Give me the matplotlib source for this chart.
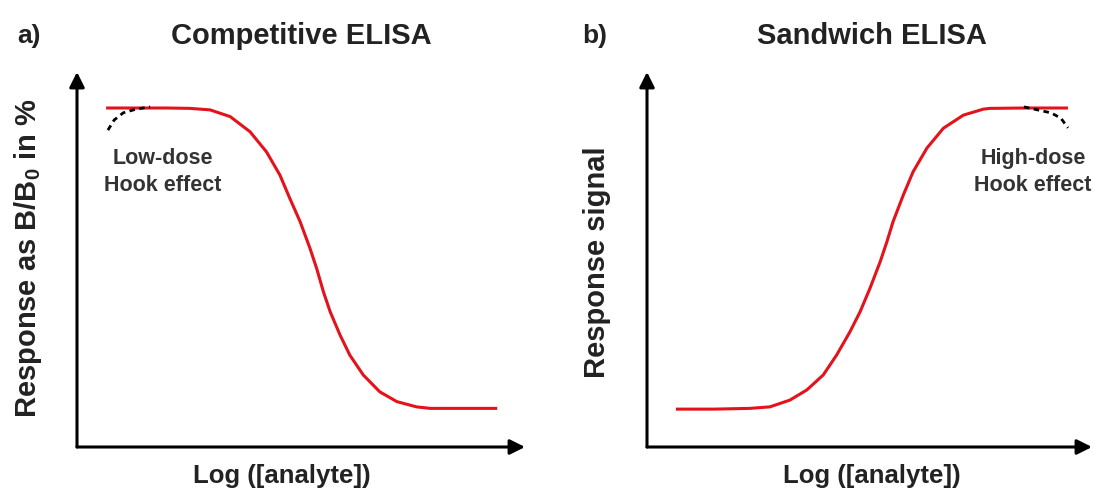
import matplotlib.pyplot as plt

plt.rcParams['font.family'] = ['Liberation Sans', 'DejaVu Sans']

W, H = 1094, 492

# competitive ELISA curve (x: log conc 0-10, y: % response 0-100)
comp_x = [0.65, 1.5, 2.0, 2.52, 2.97, 3.42, 3.86, 4.23, 4.53, 4.75, 4.98, 5.20,
          5.35, 5.50, 5.65, 5.87, 6.09, 6.39, 6.76, 7.14, 7.58, 7.88, 9.38]
comp_y = [90.4, 90.4, 90.4, 90.3, 89.9, 88.1, 84.1, 78.7, 72.5, 66.3, 60.1, 53.0,
          47.6, 41.4, 36.1, 29.9, 24.5, 19.2, 14.7, 12.1, 10.7, 10.3, 10.3]
low_hook_x = [0.69, 0.83, 1.03, 1.32, 1.63]
low_hook_y = [84.5, 87.2, 89.1, 90.1, 90.7]

# sandwich ELISA curve
sand_x = [0.65, 1.5, 2.31, 2.76, 3.21, 3.59, 3.96, 4.26, 4.56, 4.79, 5.01, 5.24,
          5.39, 5.53, 5.76, 5.98, 6.29, 6.66, 7.11, 7.56, 7.71, 8.5, 9.46]
sand_y = [10.1, 10.1, 10.3, 10.7, 12.5, 15.2, 19.2, 24.5, 30.7, 36.1, 42.3, 49.4,
          54.7, 60.1, 67.2, 73.4, 79.7, 85.0, 88.5, 90.1, 90.3, 90.4, 90.4]
high_hook_x = [8.47, 9.08, 9.30, 9.46]
high_hook_y = [90.7, 89.1, 87.7, 85.1]

red = '#e3121b'
ink = '#222222'

fig = plt.figure(figsize=(W / 100, H / 100), dpi=100)


def make_ax(x0, x1, y_top, y_bot):
    ax = fig.add_axes([x0 / W, 1 - y_bot / H, (x1 - x0) / W, (y_bot - y_top) / H])
    ax.set_xlim(0, 10)
    ax.set_ylim(0, 100)
    ax.axis('off')
    arrow = dict(arrowstyle='-|>,head_length=0.9,head_width=0.45', color='black',
                 lw=2.2, shrinkA=0, shrinkB=0)
    ax.annotate('', xy=(1, 0), xytext=(0, 0), xycoords='axes fraction', arrowprops=arrow)
    ax.annotate('', xy=(0, 1), xytext=(0, 0), xycoords='axes fraction', arrowprops=arrow)
    return ax


def ftext(px, py, s, **kw):
    fig.text(px / W, 1 - py / H, s, ha='center', va='center', **kw)


ax1 = make_ax(77, 525, 72, 447)
ax1.plot(comp_x, comp_y, color=red, lw=2.2, solid_capstyle='butt', solid_joinstyle='round')
ax1.plot(low_hook_x, low_hook_y, color='black', lw=2, ls=(0, (2, 1.6)))

ax2 = make_ax(647, 1092, 72, 447)
ax2.plot(sand_x, sand_y, color=red, lw=2.2, solid_capstyle='butt', solid_joinstyle='round')
ax2.plot(high_hook_x, high_hook_y, color='black', lw=2, ls=(0, (2, 1.6)))

ftext(29, 36, 'a)', fontsize=19, fontweight='bold', color=ink)
ftext(595, 36, 'b)', fontsize=19, fontweight='bold', color=ink)
ftext(301, 36, 'Competitive ELISA', fontsize=21, fontweight='bold', color=ink)
ftext(872, 36, 'Sandwich ELISA', fontsize=21, fontweight='bold', color=ink)

ftext(282, 476, 'Log ([analyte])', fontsize=18.5, fontweight='bold', color=ink)
ftext(872, 476, 'Log ([analyte])', fontsize=18.5, fontweight='bold', color=ink)

ftext(28, 258, r'Response as B/B$_\mathregular{0}$ in %', fontsize=21, fontweight='bold',
      color=ink, rotation=90)
ftext(597, 262, 'Response signal', fontsize=21, fontweight='bold',
      color=ink, rotation=90)

ftext(163, 172, 'Low-dose\nHook effect', fontsize=15.5, fontweight='bold',
      color='#333333', linespacing=1.35)
ftext(1033, 172, 'High-dose\nHook effect', fontsize=15.5, fontweight='bold',
      color='#333333', linespacing=1.35)

fig.savefig('out.png', dpi=100)
